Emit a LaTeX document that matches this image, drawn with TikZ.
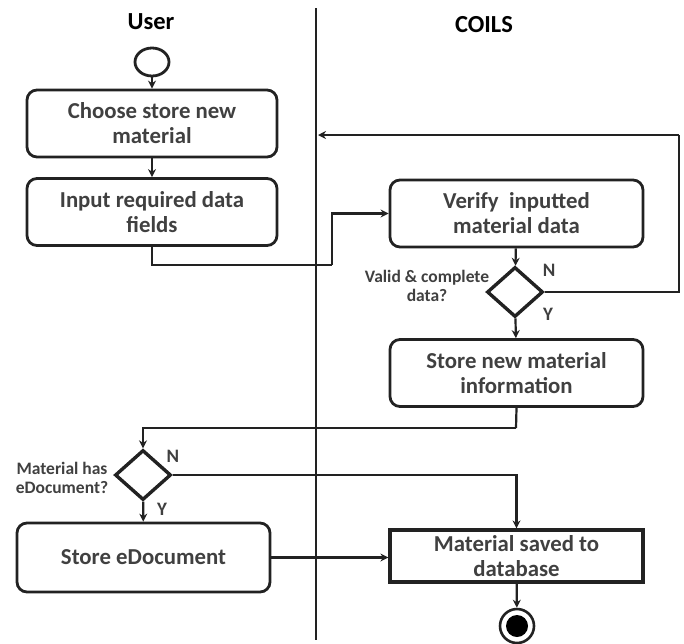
\documentclass[tikz,border=0pt]{standalone}
\usepackage{fontspec}
\setmainfont{Carlito}
\usetikzlibrary{arrows.meta,shapes.geometric}

\definecolor{ink}{HTML}{222222}
\definecolor{txt}{HTML}{404040}

\tikzset{
  stepbox/.style={draw=ink, line width=2.8pt, rounded corners=10pt,
    minimum width=250pt, minimum height=67pt, inner sep=0pt,
    align=center, text=txt, font=\fontsize{22.8}{25}\selectfont\bfseries},
  plainbox/.style={stepbox, rounded corners=0pt, line width=3.2pt},
  decide/.style={draw=ink, diamond, line width=3.4pt, inner sep=0pt,
    minimum width=56pt, minimum height=50pt},
  flow/.style={draw=ink, line width=2.2pt, -{Stealth[length=8pt,width=8pt]}},
  wire/.style={draw=ink, line width=2.2pt},
  lanehead/.style={font=\fontsize{24.5}{26}\selectfont\bfseries, text=black},
  note/.style={font=\fontsize{17.5}{19}\selectfont\bfseries, text=txt, align=center, inner sep=0pt},
  yn/.style={font=\fontsize{19}{20}\selectfont\bfseries, text=txt, inner sep=0pt},
}

\begin{document}
\begin{tikzpicture}[x=1pt,y=-1pt]
\useasboundingbox (0,0) rectangle (684,643);

% swimlane divider and headers
\coordinate (laneTop) at (316,8);
\coordinate (laneBot) at (316,640);
\draw[ink, line width=2pt] (laneTop) -- (laneBot);
\node[lanehead] (hUser) at (151,22) {User};
\node[lanehead] (hCoils) at (484,25) {COILS};

% user lane
\node[draw=ink, ellipse, line width=2.8pt, minimum width=34pt, minimum height=28pt, inner sep=0pt] (start) at (152,62) {};
\node[stepbox] (choose) at (152,123.5) {Choose store new\\material};
\node[stepbox] (input) at (152,212) {Input required data\\fields};

% system lane
\node[stepbox, minimum width=253pt] (verify) at (516.5,213.5) {Verify\ \ inputted\\material data};
\node[decide] (valid) at (515,292) {};
\node[note] (validq) at (427,286) {Valid \& complete\\data?};
\node[yn] (validN) at (549,270) {N};
\node[yn] (validY) at (548,314) {Y};
\node[stepbox, minimum width=253pt] (storeinfo) at (516.5,373) {Store new material\\information};

\node[decide] (hasdoc) at (143,475) {};
\node[note] (hasdocq) at (62,478) {Material has\\eDocument?};
\node[yn] (hasdocN) at (173,456) {N};
\node[yn] (hasdocY) at (162,509) {Y};
\node[stepbox, minimum width=253pt, minimum height=69pt] (storedoc) at (143.5,557.5) {Store eDocument};

\node[plainbox, minimum width=253pt, minimum height=52pt] (saved) at (516.5,556) {Material saved to\\database};
\node[draw=ink, circle, line width=2.6pt, minimum size=34pt, inner sep=0pt] (finish) at (517,626) {};
\fill[black] (finish.center) circle (11pt);

% connectors
\coordinate (jog) at (332,265);
\coordinate (loopR) at (679,292);
\coordinate (loopT) at (679,135);
\coordinate (loopEnd) at (318,135);
\coordinate (mergeL) at (516,428);

\draw[flow] (start) -- (choose);
\draw[flow] (choose) -- (input);
\draw[wire] (input.south) |- (jog);
\draw[flow] (jog) |- (verify.west);
\draw[flow] (verify) -- (valid);
\draw[wire] (valid.east) -- (loopR) -- (loopT);
\draw[flow] (loopT) -- (loopEnd);
\draw[flow] (valid) -- (storeinfo);
\draw[wire] (storeinfo.south) -- (mergeL);
\draw[flow] (mergeL) -| (hasdoc.north);
\draw[flow] (hasdoc.east) -| (saved.north);
\draw[flow] (hasdoc) -- (storedoc);
\draw[flow] (storedoc.east) -- (saved.west |- storedoc.east);
\draw[flow] (saved) -- (finish);
\end{tikzpicture}
\end{document}
